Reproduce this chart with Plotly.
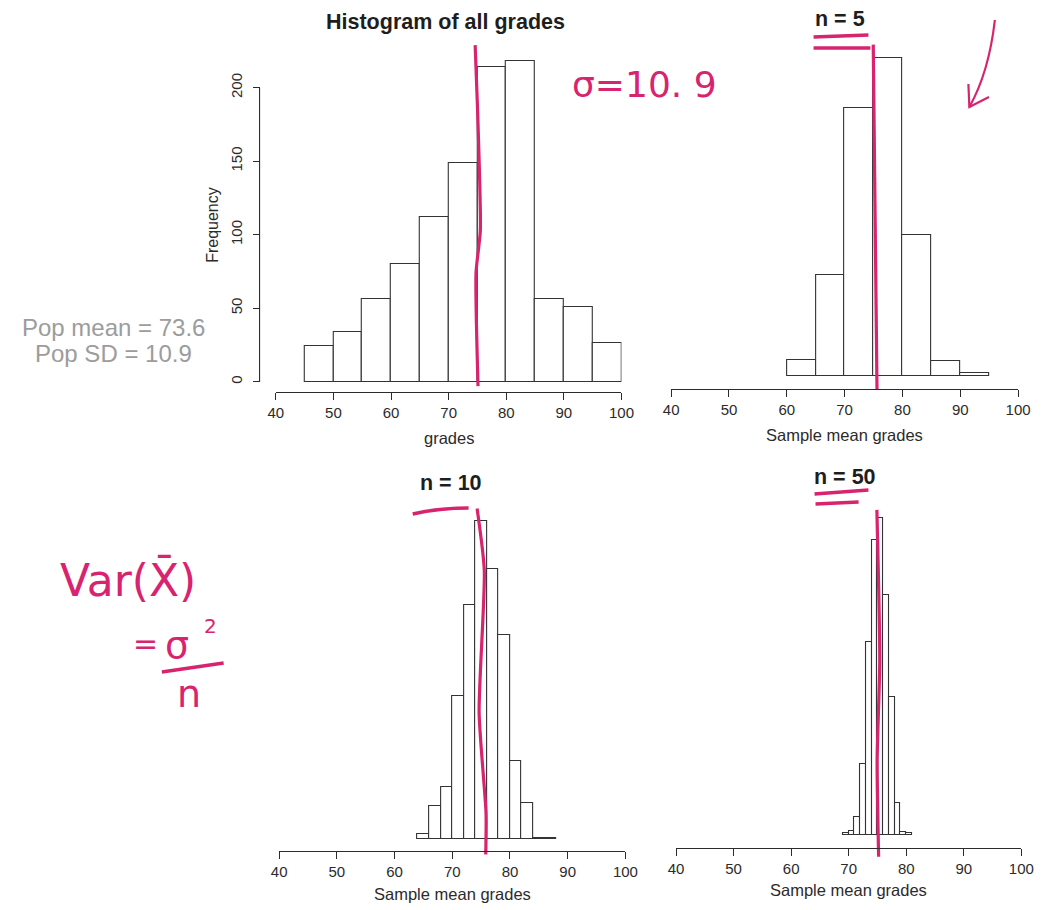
import plotly.graph_objects as go

W, H = 1050, 910

# ---------------- data ----------------
grades_edges = [45, 50, 55, 60, 65, 70, 75, 80, 85, 90, 95, 100]
grades_counts = [24, 34, 56, 80, 112, 149, 214, 218, 56, 51, 26]

n5_edges = [60, 65, 70, 75, 80, 85, 90, 95]
n5_counts = [19, 117, 311, 369, 163, 17, 4]

n10_edges = [64, 66, 68, 70, 72, 74, 76, 78, 80, 82, 84, 86, 88]
n10_counts = [4, 24, 38, 104, 170, 231, 196, 148, 57, 26, 1, 1]

n50_edges = [69, 70, 71, 72, 73, 74, 75, 76, 77, 78, 79, 80, 81]
n50_counts = [1, 3, 13, 54, 147, 225, 242, 183, 105, 24, 2, 1]

x_ticks = [40, 50, 60, 70, 80, 90, 100]
freq_ticks = [0, 50, 100, 150, 200]

titles = ["Histogram of all grades", "n = 5", "n = 10", "n = 50"]
xlabels = ["grades", "Sample mean grades", "Sample mean grades", "Sample mean grades"]

# hand-drawn pink mean lines (data units)
mark1_x = [74.6, 75.0, 75.5, 74.75, 75.1]
mark1_y = [229, 187, 103, 74, -3]
mark2_x = [74.95, 75.6]
mark2_y = [384, -16]
mark3_x = [74.3, 75.55, 74.65, 75.85, 75.8]
mark3_y = [240, 195, 92, 19, -11]
mark4_x = [74.9, 75.4, 74.95, 75.2]
mark4_y = [248, 133, 57, -17]

# ---------------- layout geometry (pixels) ----------------
panels = [
    dict(x0=273.3, x1=626.0, base=381.7, scale=1.47, axis_py=392, ytop=35, ybot=400),
    dict(x0=676.7, x1=1030.7, base=376.0, scale=0.863, axis_py=389, ytop=35, ybot=400),
    dict(x0=276.7, x1=630.0, base=839.3, scale=1.378, axis_py=851, ytop=495, ybot=868),
    dict(x0=681.7, x1=1034.0, base=834.5, scale=1.309, axis_py=848, ytop=495, ybot=868),
]

def px(x):
    return x / W

def py(y):
    return 1 - y / H

PINK = "#d8236f"
INK = "#2b2b2b"
FONT = "Liberation Sans"

fig = go.Figure()

hist_data = [(grades_edges, grades_counts), (n5_edges, n5_counts),
             (n10_edges, n10_counts), (n50_edges, n50_counts)]
marks = [(mark1_x, mark1_y), (mark2_x, mark2_y), (mark3_x, mark3_y), (mark4_x, mark4_y)]

for i, ((edges, counts), (mx, my)) in enumerate(zip(hist_data, marks)):
    suffix = "" if i == 0 else str(i + 1)
    centers = [(a + b) / 2 for a, b in zip(edges[:-1], edges[1:])]
    widths = [b - a for a, b in zip(edges[:-1], edges[1:])]
    fig.add_trace(go.Bar(
        x=centers, y=counts, width=widths,
        marker=dict(color="white", line=dict(color="#333333", width=1.1)),
        xaxis="x" + suffix, yaxis="y" + suffix, showlegend=False, hoverinfo="skip",
    ))
    fig.add_trace(go.Scatter(
        x=mx, y=my, mode="lines",
        line=dict(color=PINK, width=3.2, shape="spline", smoothing=0.6),
        xaxis="x" + suffix, yaxis="y" + suffix, showlegend=False, hoverinfo="skip",
    ))

layout = dict(
    width=W, height=H,
    margin=dict(l=0, r=0, t=0, b=0),
    paper_bgcolor="white", plot_bgcolor="rgba(0,0,0,0)",
    bargap=0, barmode="overlay",
    font=dict(family=FONT, color=INK),
)

for i, p in enumerate(panels):
    suffix = "" if i == 0 else str(i + 1)
    ymin = (p["base"] - p["ybot"]) / p["scale"]
    ymax = (p["base"] - p["ytop"]) / p["scale"]
    layout["xaxis" + suffix] = dict(
        domain=[px(p["x0"]), px(p["x1"])], range=[40, 100],
        anchor="free", position=py(p["axis_py"]),
        tickvals=x_ticks, ticks="outside", ticklen=7, tickwidth=1.1, tickcolor=INK,
        showline=True, linecolor=INK, linewidth=1.1,
        showgrid=False, zeroline=False,
        tickfont=dict(size=15, color=INK, family=FONT),
    )
    ya = dict(
        domain=[py(p["ybot"]), py(p["ytop"])], range=[ymin, ymax],
        anchor="free", position=px(256.7) if i == 0 else 0,
        showgrid=False, zeroline=False,
    )
    if i == 0:
        ya.update(tickvals=freq_ticks, ticks="outside", ticklen=7, tickwidth=1.1,
                  tickcolor=INK, showline=False, tickangle=-90, ticklabelstandoff=5,
                  tickfont=dict(size=15, color=INK, family=FONT))
    else:
        ya.update(visible=False)
    layout["yaxis" + suffix] = ya

fig.update_layout(**layout)

# y-axis line of first panel (from 0 to 200, R style)
fig.add_shape(type="line", xref="paper", yref="y", x0=px(256.7), x1=px(256.7),
              y0=freq_ticks[0], y1=freq_ticks[-1], line=dict(color=INK, width=1.1))

ann = []
# titles and axis labels
title_pos = [(446, 22), (849, 19), (452, 483), (854, 477)]
xlab_pos = [(449.6, 438), (853.7, 435), (453.3, 894), (857.8, 890)]
for t, (tx, ty), xl, (lx, ly) in zip(titles, title_pos, xlabels, xlab_pos):
    ann.append(dict(x=px(tx), y=py(ty), text="<b>" + t + "</b>", showarrow=False,
                    xref="paper", yref="paper", xanchor="center", yanchor="middle",
                    font=dict(size=21.5, color="#1e1e1e", family=FONT)))
    ann.append(dict(x=px(lx), y=py(ly), text=xl, showarrow=False,
                    xref="paper", yref="paper", xanchor="center", yanchor="middle",
                    font=dict(size=16.5, color=INK, family=FONT)))
ann.append(dict(x=px(208), y=py(225), text="Frequency", textangle=-90, showarrow=False,
                xref="paper", yref="paper", xanchor="center", yanchor="middle",
                font=dict(size=16, color=INK, family=FONT)))

# gray population stats
ann.append(dict(x=px(108), y=py(327), text="Pop mean = 73.6", showarrow=False,
                xref="paper", yref="paper", xanchor="center", yanchor="middle",
                font=dict(size=24, color="#9c9c9c", family=FONT)))
ann.append(dict(x=px(108), y=py(354), text="Pop SD = 10.9", showarrow=False,
                xref="paper", yref="paper", xanchor="center", yanchor="middle",
                font=dict(size=24, color="#9c9c9c", family=FONT)))

# handwritten notes
def hw(text, x, y, size):
    ann.append(dict(x=px(x), y=py(y), text=text, showarrow=False,
                    xref="paper", yref="paper", xanchor="center", yanchor="middle",
                    font=dict(size=size, color=PINK, family="DejaVu Sans")))

hw("σ=10. 9", 649, 84, 36)
hw("Var(X\u0304)", 122, 580, 44)
hw("=", 140, 643, 30)
hw("σ", 172, 645, 38)
hw("2", 207, 626, 20)
hw("n", 185, 694, 38)

fig.update_layout(annotations=ann)

def path(points, curve=False):
    s = "M %f %f" % (px(points[0][0]), py(points[0][1]))
    if curve:
        (cx, cy), (ex, ey) = points[1], points[2]
        s += " Q %f %f %f %f" % (px(cx), py(cy), px(ex), py(ey))
    else:
        for x, y in points[1:]:
            s += " L %f %f" % (px(x), py(y))
    return s

pink_paths = [
    (path([(822, 37), (878, 35)]), 3.5),
    (path([(822, 48), (880, 48)]), 3.5),
    (path([(413, 514), (440, 508), (470, 508)], curve=True), 3.5),
    (path([(823, 494), (878, 490)]), 3.5),
    (path([(824, 504), (868, 502)]), 3.5),
    (path([(1007, 20), (1001, 72), (981, 107)], curve=True), 2.2),
    (path([(1001, 97), (981, 107), (980, 84)]), 2.2),
    (path([(157, 672), (220, 663)]), 3.5),
]
for d, w in pink_paths:
    fig.add_shape(type="path", path=d, xref="paper", yref="paper",
                  line=dict(color=PINK, width=w))

fig.write_html("out.html")
